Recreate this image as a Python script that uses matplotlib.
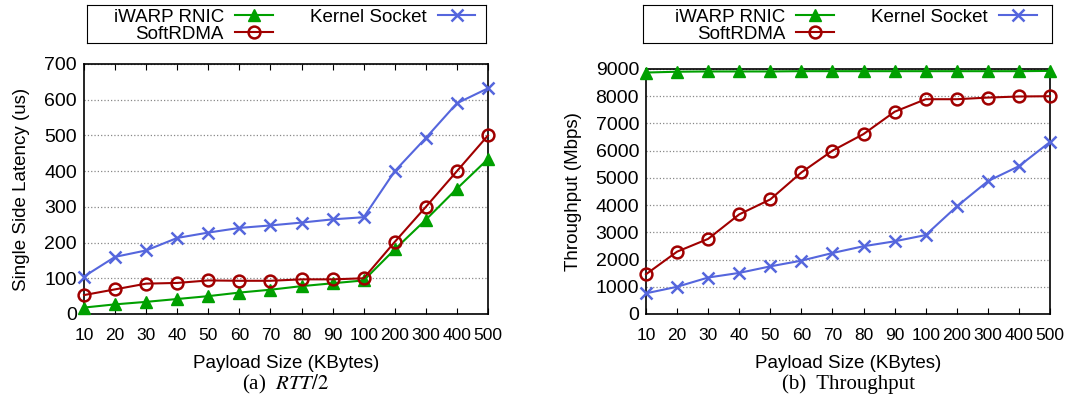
import matplotlib
matplotlib.use('Agg')
import matplotlib.pyplot as plt

sizes = ['10', '20', '30', '40', '50', '60', '70', '80', '90', '100', '200', '300', '400', '500']

lat_iwarp = [18, 27, 34, 42, 50, 60, 68, 78, 86, 94, 181, 264, 351, 434]
lat_soft = [53, 69, 85, 87, 94, 93, 93, 97, 97, 100, 202, 300, 400, 500]
lat_kernel = [105, 160, 178, 213, 228, 241, 248, 256, 265, 271, 400, 493, 590, 632]

tp_iwarp = [8870, 8900, 8910, 8910, 8910, 8920, 8920, 8920, 8920, 8920, 8920, 8920, 8920, 8930]
tp_soft = [1460, 2290, 2760, 3660, 4210, 5200, 6000, 6610, 7430, 7890, 7890, 7950, 7990, 8000]
tp_kernel = [760, 1000, 1340, 1510, 1750, 1960, 2240, 2490, 2670, 2900, 3950, 4880, 5430, 6320]

GREEN = '#00a000'
RED = '#a00000'
BLUE = '#5566dd'

plt.rcParams['font.family'] = ['Liberation Sans', 'DejaVu Sans']
plt.rcParams['mathtext.fontset'] = 'stix'

fig = plt.figure(figsize=(10.72, 3.98), dpi=100)
W, H = 1072.0, 398.0


def panel(rect, iwarp, soft, kernel, ylim, yticks, ylabel, caption, legrect):
    l, t, r, b = rect
    ax = fig.add_axes([l / W, 1 - b / H, (r - l) / W, (b - t) / H])
    x = list(range(len(sizes)))
    h1, = ax.plot(x, iwarp, color=GREEN, lw=1.5, marker='^', ms=9, label='iWARP RNIC', clip_on=False, zorder=3)
    h2, = ax.plot(x, soft, color=RED, lw=1.5, marker='o', ms=8.5, mfc='none', mew=1.8,
                  label='SoftRDMA', clip_on=False, zorder=3)
    h3, = ax.plot(x, kernel, color=BLUE, lw=1.5, marker='x', ms=8.5, mew=1.8,
                  label='Kernel Socket', clip_on=False, zorder=3)
    ax.set_xlim(0, len(sizes) - 1)
    ax.set_ylim(*ylim)
    ax.set_xticks(x)
    ax.set_xticklabels(sizes, fontsize=12.5)
    ax.set_yticks(yticks)
    ax.tick_params(axis='x', direction='in', top=True, length=4, pad=10)
    ax.tick_params(axis='y', direction='in', length=0, pad=5, labelsize=14)
    ax.yaxis.grid(True, linestyle=':', color='#888888', lw=0.9)
    for s in ax.spines.values():
        s.set_linewidth(1.2)
    ax.set_xlabel('Payload Size (KBytes)', fontsize=13.5, labelpad=9)
    ax.set_ylabel(ylabel, fontsize=13.5, labelpad=10)
    fig.text((l + r) / 2 / W, 1 - 384 / H, caption, ha='center', va='center',
             fontsize=15, family=['Liberation Serif', 'DejaVu Serif'])

    ll, lt, lr, lb = legrect
    lax = fig.add_axes([ll / W, 1 - lb / H, (lr - ll) / W, (lb - lt) / H])
    lax.set_xticks([])
    lax.set_yticks([])
    lax.patch.set_alpha(0)
    leg = lax.legend([h1, h2, h3], ['iWARP RNIC', 'SoftRDMA', 'Kernel Socket'], ncol=2,
                     loc='center', bbox_to_anchor=(0.52, 0.45), frameon=False,
                     markerfirst=False, fontsize=13.5,
                     handlelength=2.0, columnspacing=2.0, labelspacing=0.0,
                     borderpad=0.0, handletextpad=0.6)
    for t in leg.get_texts():
        t.set_ha('right')
    return ax


panel((84, 64, 488, 314), lat_iwarp, lat_soft, lat_kernel, (0, 700),
      range(0, 701, 100), 'Single Side Latency (us)', r'(a)  $RTT/2$', (87, 5, 486, 43))
panel((646, 69, 1050, 314), tp_iwarp, tp_soft, tp_kernel, (0, 9000),
      range(0, 9001, 1000), 'Throughput (Mbps)', '(b)  Throughput', (643, 5, 1052, 43))

fig.savefig('out.png', dpi=100)
